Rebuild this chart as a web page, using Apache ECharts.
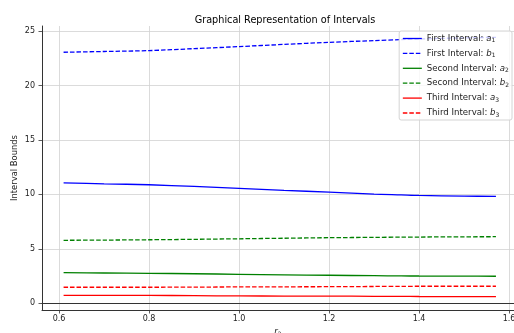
<!doctype html>
<html lang="en">
  <head>
    <meta charset="UTF-8" />
    <title>Graphical Representation of Intervals</title>
    <script src="https://cdn.jsdelivr.net/npm/echarts@6/dist/echarts.min.js"></script>
    <style>
      html, body { margin: 0; padding: 0; background: #fff; }
    </style>
  </head>
  <body>
    <div id="chart" style="width: 514px; height: 333px"></div>
    <script>
      const r2 = [0.61, 0.7, 0.8, 0.9, 1.0, 1.1, 1.2, 1.3, 1.36, 1.4, 1.5, 1.571];

      const a1 = [11.06, 10.97, 10.88, 10.73, 10.55, 10.36, 10.21, 10.02, 9.95, 9.9, 9.84, 9.81];
      const b1 = [23.05, 23.12, 23.2, 23.38, 23.57, 23.77, 23.96, 24.12, 24.21, 24.27, 24.37, 24.42];
      const a2 = [2.81, 2.78, 2.75, 2.71, 2.66, 2.61, 2.57, 2.53, 2.51, 2.5, 2.49, 2.48];
      const b2 = [5.78, 5.8, 5.83, 5.87, 5.92, 5.97, 6.02, 6.05, 6.07, 6.08, 6.1, 6.11];
      const a3 = [0.73, 0.72, 0.72, 0.7, 0.67, 0.66, 0.65, 0.64, 0.63, 0.62, 0.61, 0.61];
      const b3 = [1.47, 1.47, 1.47, 1.48, 1.5, 1.51, 1.52, 1.54, 1.55, 1.56, 1.56, 1.56];

      const xTicks = [0.6, 0.8, 1.0, 1.2, 1.4, 1.6];
      const yTicks = [0, 5, 10, 15, 20, 25];

      const FONT = 'DejaVu Sans';
      const DASH = [4.5, 2];

      const pairs = (ys) => r2.map((x, i) => [x, ys[i]]);

      const makeSeries = (name, ys, color, dashed) => ({
        name: name,
        type: 'line',
        data: pairs(ys),
        symbol: 'none',
        smooth: 0.3,
        lineStyle: { color: color, width: 1.3, type: dashed ? DASH : 'solid' },
        itemStyle: { color: color },
        emphasis: { disabled: true },
      });

      const chart = echarts.init(document.getElementById('chart'), null, { renderer: 'canvas' });

      chart.setOption({
        animation: false,
        backgroundColor: '#ffffff',
        title: {
          text: 'Graphical Representation of Intervals',
          left: 280,
          textAlign: 'center',
          top: 10,
          textStyle: { fontFamily: FONT, fontSize: 9.7, fontWeight: 'normal', color: '#000' },
        },
        grid: { left: 42, right: -4, top: 26, bottom: 23, containLabel: false, outerBoundsMode: 'none' },
        // axis titles placed by hand, as in the (cropped) original
        graphic: [
          {
            type: 'text',
            x: 15,
            y: 168,
            rotation: Math.PI / 2,
            style: {
              text: 'Interval Bounds',
              fontFamily: FONT,
              fontSize: 8.4,
              fill: '#222',
              align: 'center',
              verticalAlign: 'middle',
            },
          },
          {
            type: 'text',
            x: 278,
            y: 327,
            style: {
              text: '{i|r}{s|2}',
              align: 'center',
              verticalAlign: 'top',
              rich: {
                i: { fontFamily: FONT, fontSize: 8.6, fontStyle: 'italic', fill: '#222' },
                s: { fontFamily: FONT, fontSize: 6, fill: '#222', verticalAlign: 'bottom', padding: [4, 0, 0, 0] },
              },
            },
          },
        ],
        legend: {
          orient: 'vertical',
          right: 2,
          top: 31,
          itemWidth: 19,
          itemHeight: 9,
          itemGap: 5.4,
          padding: [3, 3, 2, 3],
          backgroundColor: 'rgba(255,255,255,0.8)',
          borderColor: '#d4d4d4',
          borderWidth: 1,
          borderRadius: 2,
          itemStyle: { opacity: 0 },
          lineStyle: { width: 1.3 },
          textStyle: {
            fontFamily: FONT,
            fontSize: 8.6,
            color: '#222',
            rich: {
              t: { fontFamily: FONT, fontSize: 8.6, color: '#222' },
              i: { fontFamily: FONT, fontSize: 8.6, fontStyle: 'italic', color: '#222' },
              s: { fontFamily: FONT, fontSize: 6, color: '#222', verticalAlign: 'bottom', padding: [4, 0, 0, 0] },
            },
          },
          formatter: (name) => {
            const m = name.match(/^(.*: )([ab])_(\d)$/);
            return '{t|' + m[1] + '}{i|' + m[2] + '}{s|' + m[3] + '}';
          },
        },
        xAxis: [
          {
            type: 'value',
            min: 0.562,
            max: 1.62,
            axisLine: { show: true, onZero: false, lineStyle: { color: '#333', width: 1 } },
            axisTick: { show: true, length: 3.5, customValues: xTicks, lineStyle: { color: '#333', width: 0.8 } },
            axisLabel: {
              customValues: xTicks,
              margin: 5,
              fontFamily: FONT,
              fontSize: 8,
              color: '#222',
              formatter: (v) => v.toFixed(1),
            },
            splitLine: { show: true, lineStyle: { color: '#d2d2d2', width: 0.8 } },
          },
          {
            type: 'value',
            position: 'top',
            min: 0.562,
            max: 1.62,
            axisLine: { show: true, lineStyle: { color: '#333', width: 1 } },
            axisTick: { show: false },
            axisLabel: { show: false },
            splitLine: { show: false },
          },
        ],
        yAxis: {
          type: 'value',
          min: -0.62,
          max: 25.46,
          axisLine: { show: true, onZero: false, lineStyle: { color: '#333', width: 1 } },
          axisTick: { show: true, length: 3.5, customValues: yTicks, lineStyle: { color: '#333', width: 0.8 } },
          axisLabel: {
            customValues: yTicks,
            margin: 7,
            fontFamily: FONT,
            fontSize: 8,
            color: '#222',
          },
          splitLine: { show: true, lineStyle: { color: '#d2d2d2', width: 0.8 } },
        },
        series: [
          makeSeries('First Interval: a_1', a1, '#0000ff', false),
          makeSeries('First Interval: b_1', b1, '#0000ff', true),
          makeSeries('Second Interval: a_2', a2, '#008000', false),
          makeSeries('Second Interval: b_2', b2, '#008000', true),
          makeSeries('Third Interval: a_3', a3, '#ff0000', false),
          makeSeries('Third Interval: b_3', b3, '#ff0000', true),
        ],
      });
    </script>
  </body>
</html>
